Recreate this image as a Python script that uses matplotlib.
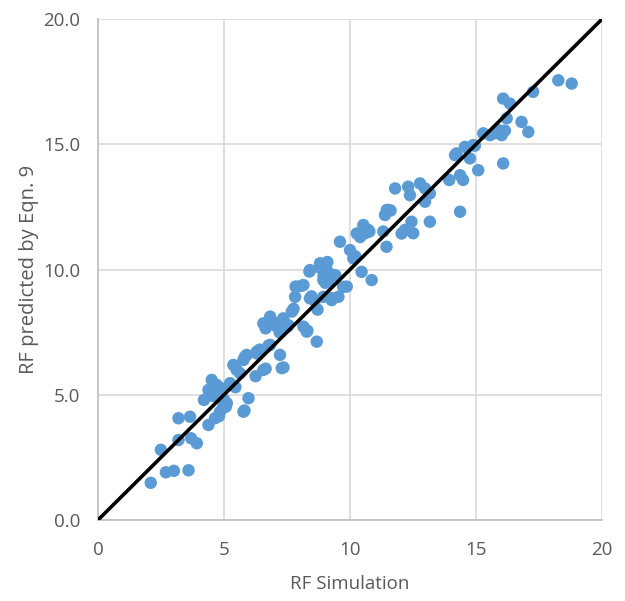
import matplotlib.pyplot as plt
import numpy as np

# RF simulation (x) vs. RF predicted by Eqn. 9 (y)
rf_sim = [
    2.09, 2.49, 2.69, 3.01, 3.59, 3.19, 3.65, 3.19, 3.69, 3.92, 4.20, 4.38, 4.64,
    4.51, 4.71, 4.38, 4.78, 4.97, 4.84, 4.80, 5.07, 5.11, 5.24, 5.37, 5.50, 5.63,
    5.77, 5.83, 5.90, 5.81, 5.97, 5.77, 6.25, 6.30, 6.30, 6.41, 6.56, 6.56, 6.65,
    6.76, 6.83, 6.83, 7.22, 7.29, 7.36, 7.21, 7.35, 7.55, 7.52, 7.69, 7.76, 7.84,
    7.82, 7.88, 8.08, 8.15, 8.15, 8.28, 8.31, 8.39, 8.41, 8.41, 8.47, 8.68, 8.71,
    8.79, 8.81, 8.94, 8.94, 9.02, 9.07, 9.10, 9.26, 9.27, 9.34, 9.42, 9.54, 9.60,
    9.73, 9.87, 10.00, 10.13, 10.21, 10.27, 10.37, 10.46, 10.53, 10.73, 10.77,
    10.86, 11.32, 11.39, 11.45, 11.46, 11.52, 11.61, 11.79, 12.05, 12.18, 12.31,
    12.38, 12.44, 12.51, 12.78, 12.98, 12.98, 13.17, 13.17, 13.94, 14.17, 14.23,
    14.37, 14.37, 14.49, 14.56, 14.76, 14.89, 14.96, 15.09, 15.29, 15.56, 15.89,
    16.02, 16.08, 16.08, 16.22, 16.35, 16.81, 17.08, 17.27, 18.27, 18.80,
    4.55, 4.90, 5.00, 6.65, 6.95, 8.95, 9.15, 9.05, 10.40, 10.60, 15.75, 16.15,
    5.45, 7.05, 8.60,
]
rf_pred = [
    1.48, 2.80, 1.90, 1.96, 1.98, 4.06, 4.12, 3.19, 3.26, 3.06, 4.79, 3.79, 4.06,
    5.59, 5.39, 5.19, 5.06, 4.52, 4.32, 4.14, 4.52, 4.66, 5.46, 6.19, 5.99, 5.86,
    6.39, 6.52, 6.59, 4.37, 4.86, 4.32, 5.74, 6.65, 6.72, 6.80, 7.85, 5.99, 6.04,
    6.96, 8.12, 6.99, 6.59, 6.06, 6.09, 7.49, 8.05, 7.78, 7.72, 8.32, 8.43, 9.32,
    8.91, 9.31, 9.35, 9.38, 7.72, 7.52, 7.56, 9.92, 8.85, 9.98, 8.93, 7.12, 8.40,
    10.08, 10.25, 8.91, 9.58, 9.47, 9.98, 10.30, 8.86, 8.78, 9.78, 9.77, 8.91, 11.11,
    9.31, 9.32, 10.78, 10.45, 10.53, 11.44, 11.45, 9.91, 11.78, 11.58, 11.52,
    9.58, 11.52, 12.18, 10.91, 12.38, 12.38, 12.36, 13.24, 11.44, 11.58, 13.31,
    12.97, 11.91, 11.45, 13.44, 13.24, 12.71, 13.04, 11.91, 13.58, 14.57, 14.64,
    13.77, 12.31, 13.58, 14.90, 14.44, 14.97, 14.95, 13.97, 15.44, 15.37, 15.57,
    15.37, 16.83, 14.24, 16.04, 16.63, 15.90, 15.50, 17.10, 17.56, 17.43,
    4.95, 5.25, 4.80, 7.65, 7.90, 9.75, 9.55, 10.05, 11.30, 11.45, 15.45, 15.55,
    5.30, 7.75, 8.75,
]

line_x = [0, 20]
line_y = [0, 20]

fig = plt.figure(figsize=(6.25, 6.01), dpi=100)
ax = fig.add_axes([0.157, 0.135, 0.806, 0.833])

plt.rcParams['font.family'] = ['Open Sans', 'DejaVu Sans']

ax.scatter(rf_sim, rf_pred, s=80, color='#5B9BD5', edgecolors='none', zorder=3)
ax.plot(line_x, line_y, color='black', linewidth=2.6, zorder=4, solid_capstyle='butt')

ax.set_xlim(0, 20)
ax.set_ylim(0, 20)
ax.set_xticks([0, 5, 10, 15, 20])
ax.set_yticks([0, 5, 10, 15, 20])
ax.set_yticklabels(['0.0', '5.0', '10.0', '15.0', '20.0'])
ax.grid(True, color='#D9D9D9', linewidth=1.2, zorder=0)
ax.set_axisbelow(True)

for side in ['top', 'right']:
    ax.spines[side].set_visible(False)
for side in ['left', 'bottom']:
    ax.spines[side].set_color('#BFBFBF')
    ax.spines[side].set_linewidth(1.2)

ax.tick_params(length=0, labelsize=13.5, labelcolor='#595959')
ax.tick_params(axis='y', pad=13)
ax.tick_params(axis='x', pad=15)
for lbl in ax.get_xticklabels() + ax.get_yticklabels():
    lbl.set_family(['Open Sans', 'DejaVu Sans'])

ax.set_xlabel('RF Simulation', fontsize=13.5, color='#595959',
              family=['Open Sans', 'DejaVu Sans'], labelpad=12)
ax.set_ylabel('RF predicted by Eqn. 9', fontsize=14.5, color='#595959',
              family=['Open Sans', 'DejaVu Sans'], labelpad=3)

fig.savefig('out.png', dpi=100)
